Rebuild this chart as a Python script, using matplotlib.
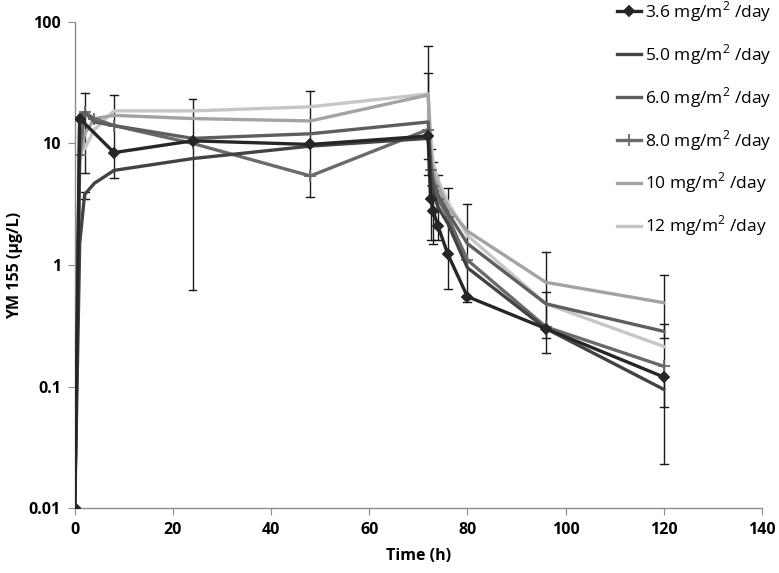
import numpy as np
from matplotlib import pyplot as plt
from matplotlib.ticker import FixedLocator, FuncFormatter, NullLocator

plt.rcParams['font.family'] = ['Open Sans', 'DejaVu Sans']
plt.rcParams['mathtext.fontset'] = 'custom'
plt.rcParams['mathtext.rm'] = 'Open Sans'

# Sampling times (h)
times = [0, 1, 2, 4, 8, 24, 48, 72, 72.5, 73, 74, 76, 80, 96, 120]
times_36 = [0, 1, 8, 24, 48, 72, 72.5, 73, 74, 76, 80, 96, 120]

# Mean concentrations (ug/L) per dose level
dose_labels = ["3.6 mg/m$^{2}$ /day", "5.0 mg/m$^{2}$ /day", "6.0 mg/m$^{2}$ /day",
               "8.0 mg/m$^{2}$ /day", "10 mg/m$^{2}$ /day", "12 mg/m$^{2}$ /day"]
conc_36 = [0.01, 16, 8.4, 10.5, 9.8, 11.5, 3.5, 2.8, 2.1, 1.23, 0.55, 0.30, 0.12]
conc_50 = [0.01, 1.5, 3.8, 4.7, 6.0, 7.5, 9.5, 11, 5.5, 4.0, 3.0, 2.2, 0.95, 0.30, 0.095]
conc_60 = [0.01, 17, 18, 15, 14, 11, 12, 15, 7.0, 5.0, 3.8, 2.7, 1.5, 0.48, 0.285]
conc_80 = [0.01, 8, 18, 16, 14, 10, 5.4, 13, 6.0, 4.5, 3.5, 2.5, 1.1, 0.31, 0.147]
conc_10 = [0.01, 7, 12, 16, 17, 16, 15.3, 25, 9.0, 6.0, 4.5, 3.0, 1.9, 0.72, 0.49]
conc_12 = [0.01, 17, 9, 13, 18.5, 18.5, 20, 25.5, 12, 7.0, 5.0, 3.3, 1.75, 0.48, 0.214]

# Error bars (time, lower, upper)
err_t = [2, 2, 8, 24, 48, 72, 72, 72.5, 73, 74, 76, 80, 96, 96, 120, 120, 120]
err_lo = [5.7, 3.5, 5.2, 0.62, 3.6, 5.5, 7.5, 1.6, 1.5, 1.6, 0.63, 0.50, 0.19, 0.25, 0.023, 0.068, 0.25]
err_hi = [26, 4.0, 25, 23, 27, 63, 38, 9.0, 7.0, 5.5, 4.3, 3.2, 1.27, 0.6, 0.82, 0.12, 0.33]

series = [(times_36, conc_36), (times, conc_50), (times, conc_60),
          (times, conc_80), (times, conc_10), (times, conc_12)]
colours = ["#262626", "#434343", "#5e5e5e", "#6a6a6a", "#a3a3a3", "#c6c6c6"]
markers = ["D", None, None, "+", None, None]


def main():
    fig, ax = plt.subplots(figsize=(7.79, 5.73), dpi=100)
    fig.subplots_adjust(left=0.096, right=0.978, top=0.962, bottom=0.113)

    # error bars in black behind the lines
    for t, lo, hi in zip(err_t, err_lo, err_hi):
        ax.plot([t, t], [lo, hi], color="#1a1a1a", lw=1.0, zorder=2)
        ax.plot([t - 0.8, t + 0.8], [lo, lo], color="#1a1a1a", lw=1.0, zorder=2)
        ax.plot([t - 0.8, t + 0.8], [hi, hi], color="#1a1a1a", lw=1.0, zorder=2)

    for k, ((tt, vals), lab) in enumerate(zip(series, dose_labels)):
        ax.plot(tt, vals, color=colours[k], lw=2.4, marker=markers[k],
                markersize=5 if markers[k] == "D" else 9, mew=1.3,
                label=lab, zorder=3 + (5 - k) * 0.1)

    ax.set_yscale("log")
    ax.set_ylim(0.01, 100)
    ax.set_xlim(0, 140)
    ax.xaxis.set_major_locator(FixedLocator(np.arange(0, 141, 20)))
    ax.yaxis.set_major_locator(FixedLocator([0.01, 0.1, 1, 10, 100]))
    ax.yaxis.set_minor_locator(NullLocator())
    ax.yaxis.set_major_formatter(FuncFormatter(lambda v, p: "%g" % v))

    for s in ["top", "right"]:
        ax.spines[s].set_visible(False)
    for s in ["left", "bottom"]:
        ax.spines[s].set_color("#8c8c8c")
        ax.spines[s].set_linewidth(1.0)
    ax.tick_params(direction="out", length=5, color="#8c8c8c", labelsize=11.5, pad=5)
    for lbl in ax.get_xticklabels() + ax.get_yticklabels():
        lbl.set_fontweight("bold")

    ax.set_xlabel("Time (h)", fontsize=11.5, fontweight="bold", labelpad=7)
    ax.set_ylabel("YM 155 (\u03bcg/L)", fontsize=11.5, fontweight="bold", labelpad=4)

    ax.legend(loc="upper left", bbox_to_anchor=(0.779, 1.06), frameon=False,
              fontsize=12.5, handlelength=1.4, handletextpad=0.2,
              labelspacing=1.05, borderaxespad=0)

    fig.savefig("out.png", dpi=100)
    return 0


if __name__ == "__main__":
    main()
